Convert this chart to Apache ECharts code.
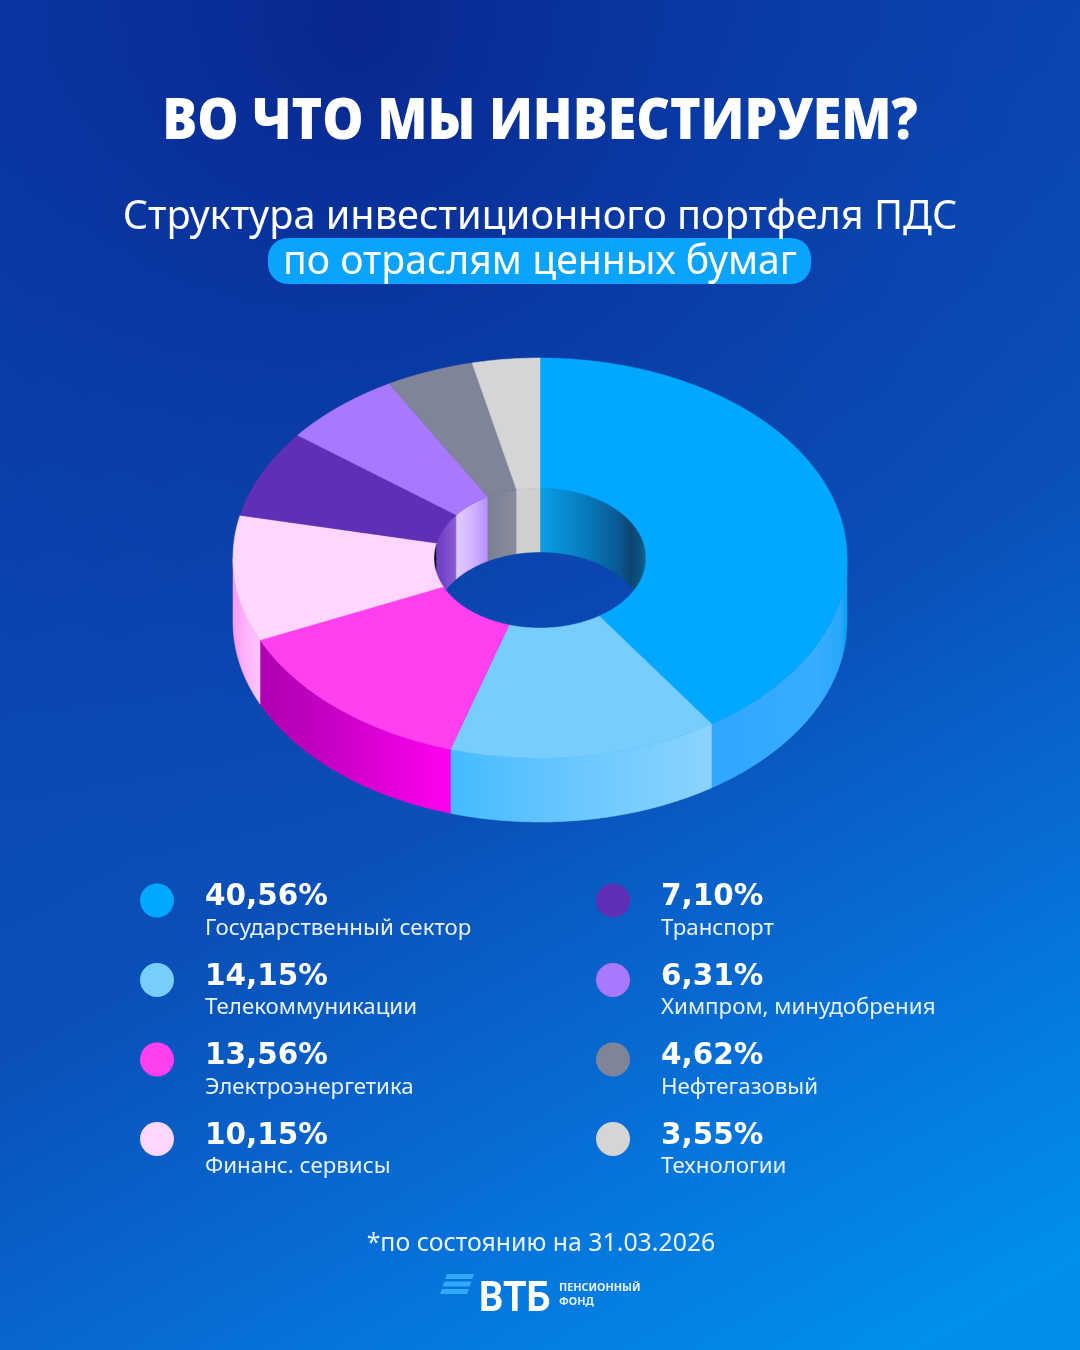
<!DOCTYPE html>
<html><head><meta charset="utf-8">
<style>html,body{margin:0;padding:0;background:#0a4ab0}#c{width:1080px;height:1350px}</style>
<script src="https://cdn.jsdelivr.net/npm/echarts@6/dist/echarts.min.js"></script>
</head><body><div id="c"></div>
<script>
const categories = ['Государственный сектор','Телекоммуникации','Электроэнергетика','Финанс. сервисы','Транспорт','Химпром, минудобрения','Нефтегазовый','Технологии'];
const shares = [40.56,14.15,13.56,10.15,7.10,6.31,4.62,3.55];
const labels = ['40,56%','14,15%','13,56%','10,15%','7,10%','6,31%','4,62%','3,55%'];
const topColors = ['#00a9ff','#78cdff','#ff3ff0','#ffd6ff','#5f2fb6','#a878ff','#7f8498','#d5d5d5'];
const outerWall = [
 [[0,'#2fa6ff'],[0.75,'#38adff'],[0.95,'#2aa8fb'],[1,'#04a0f0']],
 [[0,'#44bbff'],[0.5,'#6cc8ff'],[1,'#8ad3ff']],
 [[0,'#b000b0'],[0.25,'#bc00bc'],[1,'#ff00f0']],
 [[0,'#ff9cf2'],[0.5,'#ffb4fa'],[1,'#ffc6fd']],
 [[0,'#5f2fb6'],[1,'#5f2fb6']],[[0,'#a878ff'],[1,'#a878ff']],[[0,'#7f8498'],[1,'#7f8498']],[[0,'#d5d5d5'],[1,'#d5d5d5']]
];
const innerWall = [
 [[0,'#0a9ee6'],[0.45,'#0679bb'],[0.75,'#09588f'],[0.85,'#0c4570'],[0.95,'#0a5480'],[1,'#0a6a9a']],
 [[0,'#000'],[1,'#000']],[[0,'#000'],[1,'#000']],[[0,'#000'],[1,'#000']],
 [[0,'#6a3cc0'],[1,'#8b5cd6']],
 [[0,'#e2ccff'],[0.6,'#cdaeff'],[1,'#b08eff']],
 [[0,'#7c8094'],[1,'#888c9c']],
 [[0,'#d0d0d0'],[1,'#cfcfcf']]
];
const leftItems = categories.slice(0,4), rightItems = categories.slice(4);
const total = shares.reduce((a,b)=>a+b,0);
let cumulative = 0;
const starts = shares.map(s=>{const r=cumulative;cumulative+=s;return r;});

const CX=540,CY=558,RX=307,RY=200,IRX=106,IRY=70,DEPTH=64;
const pt=(rx,ry,a,dy)=>[CX+rx*Math.sin(a),CY-ry*Math.cos(a)+dy];
function arc(rx,ry,a0,a1,dy){const n=Math.max(2,Math.ceil(Math.abs(a1-a0)/0.01));const o=[];
 for(let i=0;i<=n;i++)o.push(pt(rx,ry,a0+(a1-a0)*i/n,dy));return o;}
function grad(stops,x0,x1){return {type:'linear',x:x0,y:0,x2:x1,y2:0,global:true,
 colorStops:stops.map(s=>({offset:s[0],color:s[1]}))};}
function overlap(a0,a1,b0,b1){const s=Math.max(a0,b0),e=Math.min(a1,b1);return s<e?[s,e]:null;}
const TAU=Math.PI*2;

function renderSlice(params,api){
 const i=params.seriesIndex, a0=api.value(1)/total*TAU, a1=(api.value(1)+api.value(0))/total*TAU;
 const kids=[];
 const f=overlap(a0,a1,Math.PI/2,Math.PI*1.5);
 if(f){const top=arc(RX,RY,f[0],f[1],0),bot=arc(RX,RY,f[1],f[0],DEPTH);
  const xs=top.map(p=>p[0]);const xa=Math.min(...xs),xb=Math.max(...xs);
  const g=grad(outerWall[i],xa,xb);
  kids.push({type:'polygon',z2:1,silent:true,shape:{points:top.concat(bot)},style:{fill:g,stroke:g,lineWidth:0.5}});}
 [overlap(a0,a1,0,Math.PI/2),overlap(a0,a1,Math.PI*1.5,TAU)].forEach(b=>{
  if(!b)return;const top=arc(IRX,IRY,b[0],b[1],0),bot=arc(IRX,IRY,b[1],b[0],DEPTH);
  const xs=top.map(p=>p[0]);const xa=Math.min(...xs),xb=Math.max(...xs);
  const g=grad(innerWall[i],xa,xb);
  kids.push({type:'polygon',z2:2,silent:true,shape:{points:top.concat(bot)},style:{fill:g,stroke:g,lineWidth:0.5}});
 });
 const face=arc(RX,RY,a0,a1,0).concat(arc(IRX,IRY,a1,a0,0));
 kids.push({type:'polygon',z2:5,silent:true,shape:{points:face},style:{fill:topColors[i],stroke:topColors[i],lineWidth:0.5}});
 return {type:'group',children:kids};
}

const series=categories.map((name,i)=>({
 type:'custom',name,coordinateSystem:'none',silent:true,animation:false,
 renderItem:renderSlice,itemStyle:{color:topColors[i]},
 data:[[shares[i],starts[i]]],clip:false
}));

const legendRich={
 v:{fontFamily:'DejaVu Sans',fontWeight:700,fontSize:29.5,color:'#fff',lineHeight:56},
 n:{fontFamily:'Noto Sans',fontSize:22.3,color:'#e8f3ff',lineHeight:6}
};
const mkLegend=(left,data)=>({
 left,top:882.5,padding:0,orient:'vertical',itemWidth:34,itemHeight:34,itemGap:22.5,icon:'circle',selectedMode:false,data,
 formatter:n=>`{v|${labels[categories.indexOf(n)]}}\n{n|${n}}`,
 textStyle:{rich:legendRich,padding:[0,0,0,26],color:'#fff'}
});
const white='#ffffff';
const graphic=[
 {type:'rect',z:-2,silent:true,shape:{x:0,y:0,width:1080,height:1350},style:{fill:{type:'radial',x:0.33,y:0.02,r:0.8,colorStops:[{offset:0,color:'rgba(8,36,140,0.9)'},{offset:0.55,color:'rgba(10,50,155,0.35)'},{offset:1,color:'rgba(10,60,170,0)'}]}}},
 {type:'text',z:5,x:540,y:123,scaleX:0.928,style:{text:'ВО ЧТО МЫ ИНВЕСТИРУЕМ?',font:'800 56px "Open Sans"',fill:white,align:'center',verticalAlign:'middle'}},
 {type:'text',z:5,x:540,y:217.5,style:{text:'Структура инвестиционного портфеля ПДС',font:'400 39.67px "Noto Sans"',fill:white,align:'center',verticalAlign:'middle'}},
 {type:'rect',z:3,shape:{x:268,y:238,width:543,height:46,r:20},style:{fill:'#0aa4ff'}},
 {type:'text',z:5,x:540,y:263,style:{text:'по отраслям ценных бумаг',font:'400 39.2px "Noto Sans"',fill:white,align:'center',verticalAlign:'middle'}},
 {type:'text',z:5,x:541,y:1244,style:{text:'*по состоянию на 31.03.2026',font:'400 24.85px "Noto Sans"',fill:'#e8f3ff',align:'center',verticalAlign:'middle'}},
 {type:'polygon',z:5,shape:{points:[[447,1274],[474,1274],[472,1279],[445,1279]]},style:{fill:'#33a8ff'}},
 {type:'polygon',z:5,shape:{points:[[444.5,1281.5],[471.5,1281.5],[469.5,1286.5],[442.5,1286.5]]},style:{fill:'#33a8ff'}},
 {type:'polygon',z:5,shape:{points:[[442,1289],[469,1289],[467,1294],[440,1294]]},style:{fill:'#33a8ff'}},
 {type:'text',z:5,x:479,y:1300,scaleX:0.91,style:{text:'ВТБ',font:'700 42px Roboto',fill:white,align:'left',verticalAlign:'middle'}},
 {type:'text',z:5,x:559,y:1287.5,style:{text:'ПЕНСИОННЫЙ',font:'700 10.8px "Noto Sans"',fill:'#e8f3ff',align:'left',verticalAlign:'middle'}},
 {type:'text',z:5,x:559,y:1301.5,style:{text:'ФОНД',font:'700 10.8px "Noto Sans"',fill:'#e8f3ff',align:'left',verticalAlign:'middle'}}
];
const chart=echarts.init(document.getElementById('c'),null,{renderer:'canvas',width:1080,height:1350});
chart.setOption({
 animation:false,
 backgroundColor:{type:'linear',x:0.15,y:0,x2:0.85,y2:1,colorStops:[{offset:0,color:'#0a3aa8'},{offset:0.55,color:'#0a50b8'},{offset:0.8,color:'#0672da'},{offset:1,color:'#0090ec'}]},
 legend:[mkLegend(140,leftItems),mkLegend(596,rightItems)],
 graphic,series
});
</script></body></html>
